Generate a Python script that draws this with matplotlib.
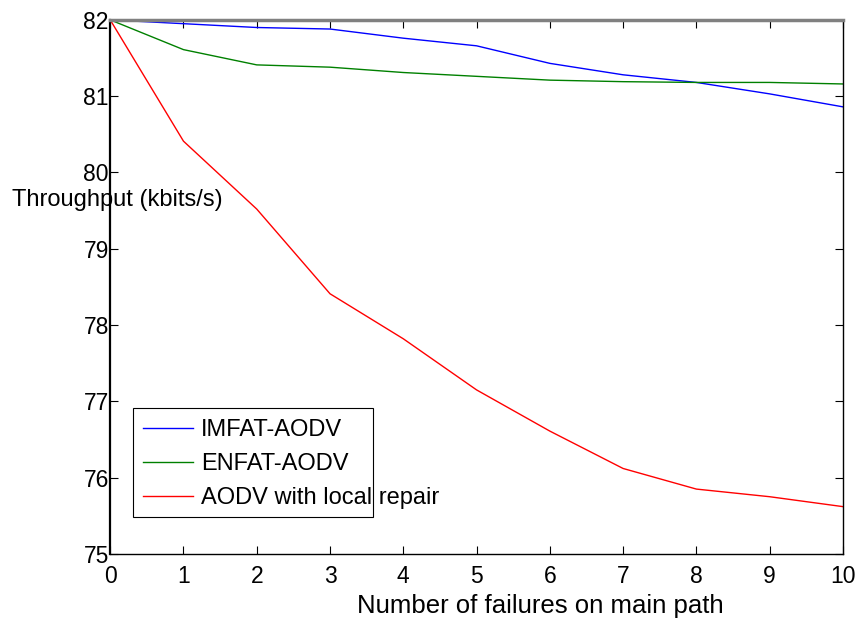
import numpy as np
import matplotlib
matplotlib.use("Agg")
import matplotlib.pyplot as plt
from matplotlib.patches import Rectangle

plt.rcParams['font.family'] = ['Liberation Sans', 'DejaVu Sans']

# Data
failures = [0, 1, 2, 3, 4, 5, 6, 7, 8, 9, 10]
imfat = [82.0, 81.95, 81.90, 81.88, 81.76, 81.66, 81.43, 81.28, 81.18, 81.03, 80.86]
enfat = [82.0, 81.61, 81.41, 81.38, 81.31, 81.26, 81.21, 81.19, 81.18, 81.18, 81.16]
aodv_local = [82.0, 80.41, 79.52, 78.41, 77.82, 77.15, 76.61, 76.12, 75.85, 75.75, 75.62]
labels = ['IMFAT-AODV', 'ENFAT-AODV', 'AODV with local repair']
xticks = list(range(0, 11))
yticks = list(range(75, 83))

fs = 16.5

fig = plt.figure(figsize=(8.61, 6.21), dpi=100)
ax = fig.add_axes([0.128, 0.108, 0.851, 0.860])

ax.plot(failures, imfat, color='#0000ff', lw=1.0, label=labels[0])
ax.plot(failures, enfat, color='#008000', lw=1.0, label=labels[1])
ax.plot(failures, aodv_local, color='#ff0000', lw=1.0, label=labels[2])

ax.set_xlim(0, 10)
ax.set_ylim(75, 82)
ax.set_xticks(xticks)
ax.set_yticks(yticks)
ax.tick_params(direction='in', top=True, right=True, length=6, width=0.8,
               labelsize=fs)
ax.tick_params(axis='x', pad=8)
ax.tick_params(axis='y', pad=1)
for s in ax.spines.values():
    s.set_linewidth(1.0)
ax.spines['top'].set_linewidth(2.5)
ax.spines['top'].set_color('#808080')
ax.spines['left'].set_linewidth(1.6)

ax.set_xlabel('Number of failures on main path', fontsize=18.5)
ax.xaxis.set_label_coords(0.587, -0.097)
ax.xaxis.label.set_va('center')
fig.text(0.014, 0.678, 'Throughput (kbits/s)', fontsize=17, ha='left', va='center')

# legend box is narrower than its text in the original, so draw it by hand
ax.add_patch(Rectangle((0.0314, 0.0693), 0.327, 0.204, transform=ax.transAxes,
                       facecolor='white', edgecolor='black', lw=0.8, zorder=4))
leg = ax.legend(loc='upper left', bbox_to_anchor=(0.045, 0.252), fontsize=17,
                frameon=False, handlelength=2.1, handletextpad=0.35,
                borderpad=0, labelspacing=0.5, borderaxespad=0)
leg.set_zorder(5)

fig.savefig('out.png', dpi=100)
